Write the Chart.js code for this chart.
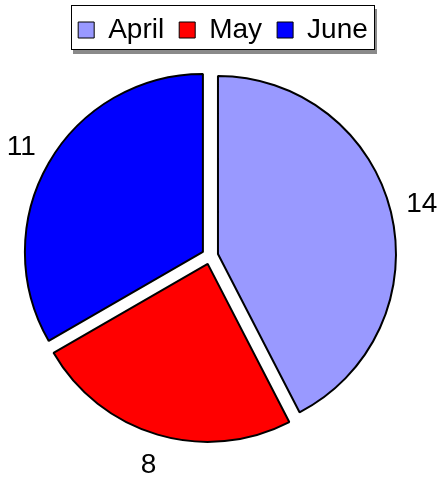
<!DOCTYPE html>
<html>
<head>
<meta charset="utf-8">
<script src="https://cdn.jsdelivr.net/npm/chart.js@4.4.0/dist/chart.umd.min.js"></script>
<style>
  html, body { margin: 0; padding: 0; background: #fff; }
  canvas { display: block; }
</style>
</head>
<body>
<canvas id="pie-chart" width="439" height="483"></canvas>
<script>
'use strict';

const months = ['April', 'May', 'June'];
const counts = [14, 8, 11];
const sliceColors = ['#9999ff', '#ff0000', '#0000ff'];

const EXPLODE = 8.2;     // how far each slice is pulled out from the centre
const LABEL_GAP = 40;    // space between pie edge and the value text
const LEGEND_SHIFT = 13; // legend sits a little right of the pie centre
const FRAME_PAD = 7;     // frame margin around the legend items

Chart.defaults.font.family = '"Liberation Sans", Arial, sans-serif';
Chart.defaults.color = '#000';

// pull every slice out along its middle angle without growing it
// (the built-in offset option also enlarges narrow slices)
const baseArcDraw = Chart.ArcElement.prototype.draw;
Chart.ArcElement.prototype.draw = function (ctx) {
  const mid = (this.startAngle + this.endAngle) / 2;
  ctx.save();
  ctx.translate(Math.cos(mid) * EXPLODE, Math.sin(mid) * EXPLODE);
  baseArcDraw.call(this, ctx);
  ctx.restore();
};

// framed legend with a grey drop shadow
const legendBox = {
  id: 'legendBox',
  afterLayout(chart) {
    chart.legend.left += LEGEND_SHIFT;
    chart.legend.right += LEGEND_SHIFT;
  },
  beforeDraw(chart) {
    const legend = chart.legend;
    const hb = legend.legendHitBoxes;
    if (!hb || !hb.length) return;
    const last = hb[hb.length - 1];
    const x = Math.round(hb[0].left) - FRAME_PAD;
    const w = Math.round(last.left + last.width) + FRAME_PAD - x;
    const y = legend.top + 4;
    const h = legend.bottom - 4 - y;
    const ctx = chart.ctx;
    ctx.save();
    ctx.fillStyle = '#8a8a8a';
    ctx.fillRect(x + 2, y + 4, w, h);
    ctx.fillStyle = '#fff';
    ctx.fillRect(x, y, w, h);
    ctx.strokeStyle = '#000';
    ctx.lineWidth = 1;
    ctx.strokeRect(x + 0.5, y + 0.5, w - 1, h - 1);
    ctx.restore();
  }
};

// value written outside each slice
const sliceValues = {
  id: 'sliceValues',
  afterDatasetsDraw(chart) {
    const ctx = chart.ctx;
    const meta = chart.getDatasetMeta(0);
    ctx.save();
    ctx.font = '28px "Liberation Sans", Arial, sans-serif';
    ctx.fillStyle = '#000';
    ctx.textAlign = 'center';
    ctx.textBaseline = 'middle';
    meta.data.forEach((arc, i) => {
      const mid = (arc.startAngle + arc.endAngle) / 2;
      const r = arc.outerRadius + LABEL_GAP;
      ctx.fillText(String(counts[i]), arc.x + Math.cos(mid) * r, arc.y + Math.sin(mid) * r);
    });
    ctx.restore();
  }
};

const baseLabels = Chart.DoughnutController.overrides.plugins.legend.labels.generateLabels;

new Chart(document.getElementById('pie-chart'), {
  type: 'pie',
  data: {
    labels: months,
    datasets: [{
      data: counts,
      backgroundColor: sliceColors,
      borderColor: '#000',
      borderWidth: 2,
    }],
  },
  options: {
    responsive: false,
    animation: false,
    events: [],
    layout: {
      padding: { top: 1, left: 31, right: 50, bottom: 25 }
    },
    plugins: {
      legend: {
        position: 'top',
        labels: {
          boxWidth: 16,
          boxHeight: 16,
          padding: 15,
          font: { size: 28 },
          generateLabels: (chart) => {
            const items = baseLabels(chart);
            items.forEach((item) => { item.lineWidth = 1; });
            return items;
          }
        }
      },
      tooltip: { enabled: false }
    }
  },
  plugins: [legendBox, sliceValues]
});
</script>
</body>
</html>
